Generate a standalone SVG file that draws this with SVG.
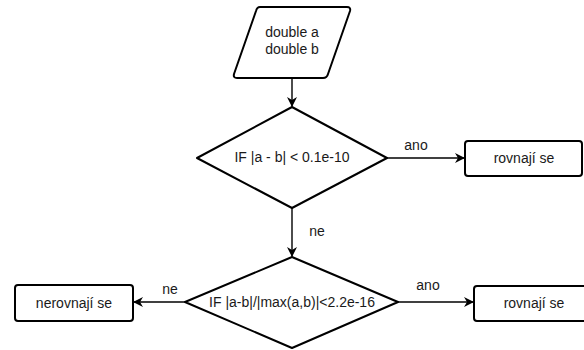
<svg xmlns="http://www.w3.org/2000/svg" width="584" height="350" viewBox="0 0 584 350">
  <style>
    .shape { fill: #ffffff; stroke: #000000; stroke-width: 2; stroke-linejoin: round; }
    .edge { fill: none; stroke: #000000; stroke-width: 1.4; }
    .t { font-family: "Liberation Sans", Arial, sans-serif; font-size: 14px; fill: #1a1a1a; text-anchor: middle; }
  </style>
  <defs>
    <marker id="arrow" viewBox="0 0 10 10" refX="9" refY="5" markerWidth="10" markerHeight="10" markerUnits="userSpaceOnUse" orient="auto">
      <path d="M0,0 L10,5 L0,10 L3,5 Z" fill="#000000"/>
    </marker>
  </defs>

  <g id="connectors">
    <path class="edge" d="M292,78 L292,106" marker-end="url(#arrow)"/>
    <path class="edge" d="M387,158 L464,158" marker-end="url(#arrow)"/>
    <path class="edge" d="M292,208 L292,256" marker-end="url(#arrow)"/>
    <path class="edge" d="M185,302 L134,302" marker-end="url(#arrow)"/>
    <path class="edge" d="M398,302 L473,302" marker-end="url(#arrow)"/>
    <text class="t" x="416" y="150">ano</text>
    <text class="t" x="317" y="236">ne</text>
    <text class="t" x="170" y="294">ne</text>
    <text class="t" x="428" y="290">ano</text>
  </g>

  <g id="input">
    <path class="shape" d="M260,7 L347,7 Q351,7 350,11 L328,74 Q327,78 323,78 L237,78 Q233,78 234,74 L256,11 Q257,7 260,7 Z"/>
    <text class="t" x="292" y="37">double a</text>
    <text class="t" x="292" y="54">double b</text>
  </g>

  <g id="cond1">
    <path class="shape" d="M292,107 L387,158 L292,208 L197,158 Z"/>
    <text class="t" x="292" y="162">IF |a - b| &lt; 0.1e-10</text>
  </g>

  <g id="equal1">
    <rect class="shape" x="465" y="141" width="117" height="35" rx="3"/>
    <text class="t" x="524" y="163">rovnají se</text>
  </g>

  <g id="cond2">
    <path class="shape" d="M292,257 L398,302 L292,348 L185,302 Z"/>
    <text class="t" x="292" y="307">IF |a-b|/|max(a,b)|&lt;2.2e-16</text>
  </g>

  <g id="notEqual">
    <rect class="shape" x="15" y="285" width="118" height="36" rx="3"/>
    <text class="t" x="74" y="308">nerovnají se</text>
  </g>

  <g id="equal2">
    <rect class="shape" x="474" y="286" width="120" height="35" rx="3"/>
    <text class="t" x="534" y="308">rovnají se</text>
  </g>
</svg>
